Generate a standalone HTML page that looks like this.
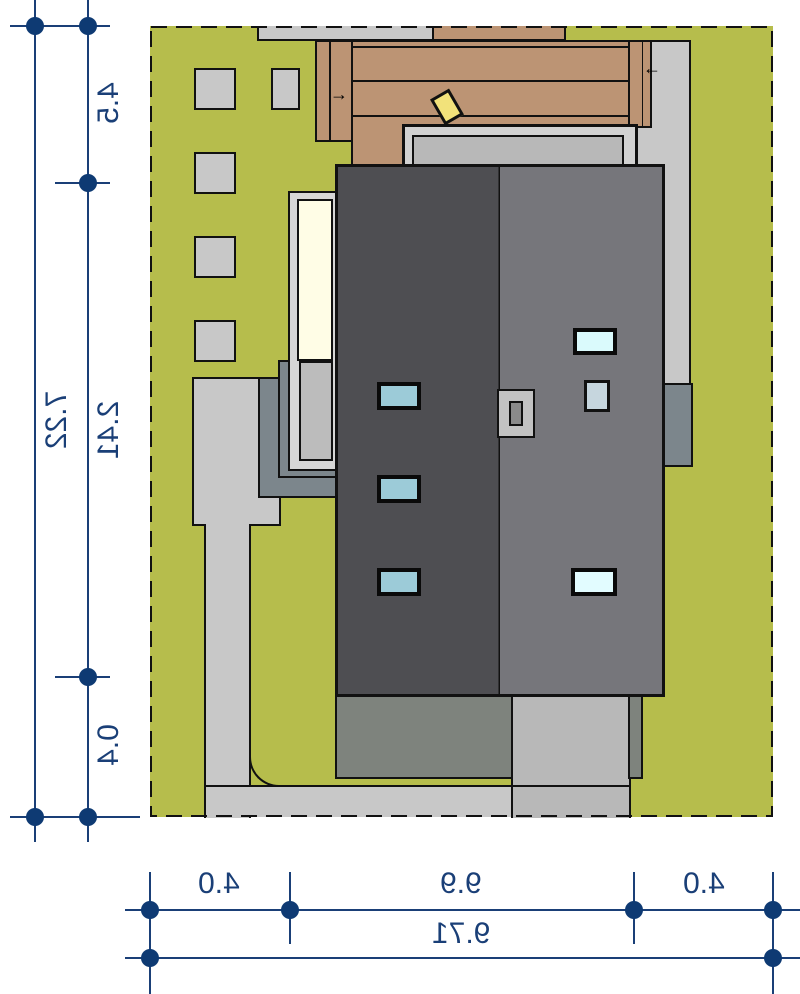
<!DOCTYPE html>
<html><head><style>
body{margin:0;width:800px;height:994px;background:#fff;position:relative;overflow:hidden;font-family:"Liberation Sans",sans-serif}
div{position:absolute;box-sizing:border-box}
.b{border:2px solid #111}
.g{background:#c8c8c8}
.w{border:4px solid #0a0a0a}
.t{color:#1a3f77;font-size:30px;white-space:nowrap}
</style></head><body>
<!-- plot -->
<div style="left:150px;top:26px;width:623px;height:791px;background:#b6bd4c"></div>
<div class="g b" style="left:257px;top:26px;width:177px;height:15px;border-top:none"></div>
<div class="b" style="left:432px;top:26px;width:134px;height:15px;background:#bc9474;border-top:none"></div>
<!-- right path -->
<div class="g b" style="left:628px;top:40px;width:63px;height:345px"></div>
<!-- deck -->
<div class="b" style="left:315px;top:40px;width:48px;height:102px;background:#bc9474"></div>
<div style="left:329px;top:40px;width:2px;height:102px;background:#111"></div>
<div class="b" style="left:351px;top:40px;width:280px;height:128px;background:#bc9474"></div>
<div style="left:352px;top:46px;width:278px;height:2px;background:#111"></div>
<div style="left:352px;top:80px;width:278px;height:2px;background:#111"></div>
<div style="left:352px;top:115px;width:278px;height:2px;background:#111"></div>
<div class="b" style="left:628px;top:40px;width:24px;height:88px;background:#bc9474"></div>
<div style="left:642px;top:40px;width:1px;height:88px;background:#111"></div>
<div style="left:330px;top:84px;font-size:18px">→</div>
<div style="left:643px;top:58px;font-size:18px">←</div>
<div class="b" style="left:436px;top:92px;width:22px;height:30px;background:#f2e27a;transform:rotate(-30deg);border-width:3px"></div>
<div class="b" style="left:402px;top:124px;width:236px;height:45px;background:#d2d2d2;border-width:3px"></div>
<div class="b" style="left:412px;top:135px;width:212px;height:34px;background:#b8b8b8"></div>
<!-- squares -->
<div class="g b" style="left:194px;top:68px;width:42px;height:42px"></div>
<div class="g b" style="left:271px;top:68px;width:29px;height:42px"></div>
<div class="g b" style="left:194px;top:152px;width:42px;height:42px"></div>
<div class="g b" style="left:194px;top:236px;width:42px;height:42px"></div>
<div class="g b" style="left:194px;top:320px;width:42px;height:42px"></div>
<!-- left side -->
<div class="g b" style="left:192px;top:377px;width:89px;height:149px"></div>
<div class="g b" style="left:204px;top:524px;width:47px;height:294px;border-bottom:none;border-top:none"></div>
<div class="g" style="left:206px;top:785px;width:425px;height:32px;border-top:2px solid #111"></div>
<div style="left:249px;top:740px;width:47px;height:47px;border-left:2px solid #111;border-bottom:2px solid #111;border-bottom-left-radius:30px;background:#b6bd4c"></div>
<div class="b" style="left:258px;top:377px;width:80px;height:121px;background:#7c868c"></div>
<div class="b" style="left:278px;top:360px;width:60px;height:118px;background:#7c868c"></div>
<div class="b" style="left:288px;top:191px;width:50px;height:280px;background:#d6d6d6"></div>
<div class="b" style="left:297px;top:199px;width:36px;height:162px;background:#fffde6"></div>
<div class="b" style="left:299px;top:361px;width:34px;height:100px;background:#bcbcbc"></div>
<div class="b" style="left:663px;top:383px;width:30px;height:84px;background:#7c868c"></div>
<!-- below house -->
<div class="b" style="left:335px;top:693px;width:178px;height:86px;background:#7e837d"></div>
<div class="b" style="left:511px;top:693px;width:120px;height:125px;background:#b8b8b8;border-bottom:none"></div>
<div style="left:512px;top:785px;width:118px;height:2px;background:#111"></div>
<div class="b" style="left:628px;top:695px;width:15px;height:84px;background:#7e837d"></div>
<!-- house -->
<div style="left:335px;top:164px;width:330px;height:533px;border:3px solid #111;background:linear-gradient(90deg,#4e4e52 0 49.5%,#111 49.5% 50%,#76767b 50%)"></div>
<div class="w" style="left:377px;top:382px;width:44px;height:28px;background:#9ccbd8"></div>
<div class="w" style="left:377px;top:475px;width:44px;height:28px;background:#9ccbd8"></div>
<div class="w" style="left:377px;top:568px;width:44px;height:28px;background:#9ccbd8"></div>
<div class="w" style="left:573px;top:328px;width:44px;height:27px;background:#dafafc"></div>
<div class="b" style="left:584px;top:380px;width:26px;height:32px;background:#c6d6de;border-width:3px"></div>
<div class="w" style="left:571px;top:568px;width:46px;height:28px;background:#e2fcff"></div>
<div class="b" style="left:497px;top:389px;width:38px;height:49px;background:#c2c2c2"></div>
<div class="b" style="left:509px;top:401px;width:14px;height:25px;background:#8a8a8a"></div>
<!-- left dims -->
<div style="left:34px;top:0;width:2px;height:842px;background:#1a3f77"></div>
<div style="left:87px;top:0;width:2px;height:842px;background:#1a3f77"></div>
<div style="left:10px;top:25px;width:100px;height:2px;background:#1a3f77"></div>
<div style="left:55px;top:182px;width:55px;height:2px;background:#1a3f77"></div>
<div style="left:55px;top:676px;width:55px;height:2px;background:#1a3f77"></div>
<div style="left:10px;top:816px;width:130px;height:2px;background:#1a3f77"></div>
<!-- bottom dims -->
<div style="left:125px;top:909px;width:675px;height:2px;background:#1a3f77"></div>
<div style="left:125px;top:957px;width:675px;height:2px;background:#1a3f77"></div>
<div style="left:149px;top:872px;width:2px;height:122px;background:#1a3f77"></div>
<div style="left:289px;top:872px;width:2px;height:72px;background:#1a3f77"></div>
<div style="left:633px;top:872px;width:2px;height:72px;background:#1a3f77"></div>
<div style="left:772px;top:872px;width:2px;height:122px;background:#1a3f77"></div>
<svg style="position:absolute;left:0;top:0" width="800" height="994">
<rect x="151" y="27" width="621" height="789" fill="none" stroke="#111" stroke-width="2" stroke-dasharray="16,9"/>
<g fill="#0e3a73">
<circle cx="35" cy="26" r="9"/><circle cx="88" cy="26" r="9"/><circle cx="88" cy="183" r="9"/><circle cx="88" cy="677" r="9"/><circle cx="35" cy="817" r="9"/><circle cx="88" cy="817" r="9"/>
<circle cx="150" cy="910" r="9"/><circle cx="290" cy="910" r="9"/><circle cx="634" cy="910" r="9"/><circle cx="773" cy="910" r="9"/><circle cx="150" cy="958" r="9"/><circle cx="773" cy="958" r="9"/></g></svg>
<div class="t" style="left:198px;top:867px;transform:scaleX(-1)">4.0</div>
<div class="t" style="left:440px;top:867px;transform:scaleX(-1)">9.9</div>
<div class="t" style="left:683px;top:867px;transform:scaleX(-1)">4.0</div>
<div class="t" style="left:432px;top:917px;transform:scaleX(-1)">9.71</div>
<div class="t" style="left:88px;top:86px;transform:rotate(90deg) scaleY(-1)">4.5</div>
<div class="t" style="left:80px;top:413px;transform:rotate(90deg) scaleY(-1)">2.41</div>
<div class="t" style="left:28px;top:403px;transform:rotate(90deg) scaleY(-1)">7.22</div>
<div class="t" style="left:88px;top:728px;transform:rotate(90deg) scaleY(-1)">0.4</div>
</body></html>
